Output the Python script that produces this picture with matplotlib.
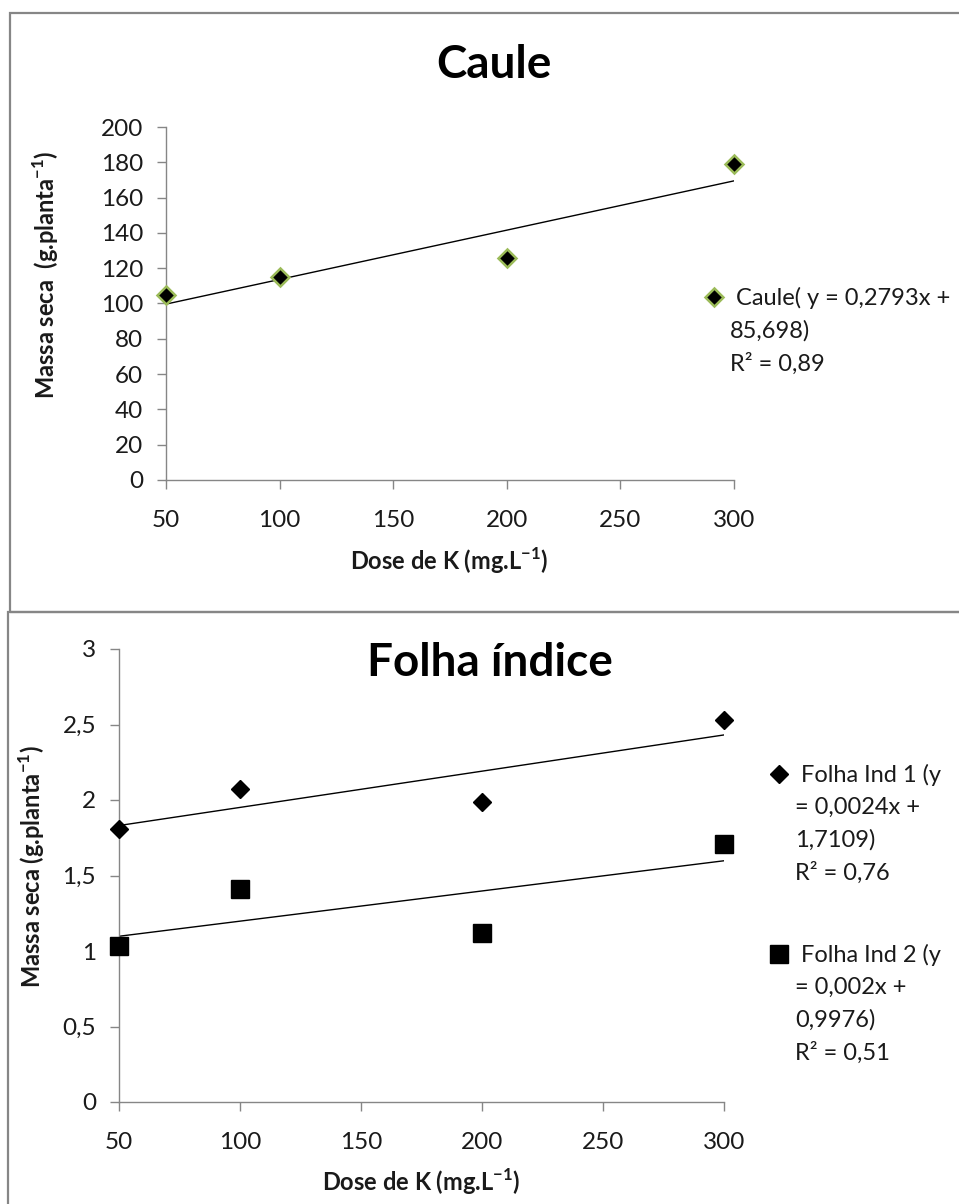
import matplotlib
matplotlib.use('Agg')
import matplotlib.pyplot as plt
from matplotlib.lines import Line2D
from matplotlib.patches import Rectangle

plt.rcParams['font.family'] = ['Lato', 'DejaVu Sans']
plt.rcParams['mathtext.fontset'] = 'custom'
plt.rcParams['mathtext.rm'] = 'Lato'
plt.rcParams['mathtext.bf'] = 'Lato:bold'

# data
doses = [50, 100, 200, 300]
caule = [105, 115, 126, 179]
folha1 = [1.81, 2.07, 1.99, 2.53]
folha2 = [1.03, 1.41, 1.12, 1.71]

# trend lines as printed in the legends (slope, intercept)
caule_fit = (0.2793, 85.698)
folha1_fit = (0.0024, 1.7109)
folha2_fit = (0.002, 0.9976)
fit_x = [50, 300]

x_ticks = [50, 100, 150, 200, 250, 300]
caule_yticks = [0, 20, 40, 60, 80, 100, 120, 140, 160, 180, 200]
folha_yticks = [0, 0.5, 1, 1.5, 2, 2.5, 3]
folha_yticklabels = ['0', '0,5', '1', '1,5', '2', '2,5', '3']

caule_label = [' Caule( y = 0,2793x +', '85,698)', 'R² = 0,89']
folha1_label = [' Folha Ind 1 (y', '= 0,0024x +', '1,7109)', 'R² = 0,76']
folha2_label = [' Folha Ind 2 (y', '= 0,002x +', '0,9976)', 'R² = 0,51']

W, H = 959, 1204
AXIS = '#868686'
TXT = '#1a1a1a'
GREEN = '#9bbb59'

fig = plt.figure(figsize=(W / 100, H / 100), dpi=100)

# panel borders
fig.add_artist(Rectangle((10 / W, 1 - 612 / H), 1.2, (612 - 13) / H,
                         transform=fig.transFigure, fill=False, ec=AXIS, lw=1.6))
fig.add_artist(Rectangle((8 / W, -0.1), 1.2, 0.1 + (H - 612) / H,
                         transform=fig.transFigure, fill=False, ec=AXIS, lw=1.6))


def style_axes(ax):
    for s in ['top', 'right']:
        ax.spines[s].set_visible(False)
    for s in ['left', 'bottom']:
        ax.spines[s].set_color(AXIS)
        ax.spines[s].set_linewidth(1.0)
    ax.tick_params(axis='y', direction='out', length=6.5, width=1.0, color=AXIS,
                   labelsize=17.5, labelcolor=TXT, pad=10)
    ax.tick_params(axis='x', direction='out', length=6.5, width=1.0, color=AXIS,
                   labelsize=17.5, labelcolor=TXT, pad=15)
    ax.set_xlim(50, 300)
    ax.set_xticks(x_ticks)
    ax.set_xticklabels([str(t) for t in x_ticks])


def line_fit(fit):
    return [fit[0] * x + fit[1] for x in fit_x]


# top panel: Caule
ax1 = fig.add_axes([166 / W, 1 - 480 / H, 568 / W, 353 / H])
style_axes(ax1)
ax1.set_ylim(0, 200)
ax1.set_yticks(caule_yticks)
ax1.plot(fit_x, line_fit(caule_fit), color='black', lw=1.0, zorder=2)
h_caule, = ax1.plot(doses, caule, linestyle='none', marker='D', markersize=9.5,
                    markerfacecolor='black', markeredgecolor=GREEN,
                    markeredgewidth=1.8, zorder=3, clip_on=False)
ax1.set_xlabel(r'Dose de K (mg.L$^{\mathbf{-1}}$)', fontsize=17, fontweight='bold', color=TXT)
ax1.xaxis.set_label_coords(0.498, -0.187)
ax1.set_ylabel(r'Massa seca  (g.planta$^{\mathbf{-1}}$)', fontsize=17, fontweight='bold', color=TXT)
ax1.yaxis.set_label_coords(-0.185, 0.581)
fig.text(494 / W, 1 - 65 / H, 'Caule', fontsize=33, fontweight='bold',
         ha='center', va='center', color='black')

blank = Line2D([], [], linestyle='none')
leg_kw = dict(frameon=False, fontsize=17, handlelength=1.0, handletextpad=0.18,
              borderpad=0, borderaxespad=0, labelspacing=0.47, labelcolor=TXT)
ax1.legend([h_caule, blank, blank], caule_label, loc='upper left',
           bbox_to_anchor=(702 / W, 1 - 287 / H), bbox_transform=fig.transFigure, **leg_kw)

# bottom panel: Folha indice
ax2 = fig.add_axes([119 / W, 1 - 1102 / H, 605 / W, 453 / H])
style_axes(ax2)
ax2.set_ylim(0, 3)
ax2.set_yticks(folha_yticks)
ax2.set_yticklabels(folha_yticklabels)
ax2.plot(fit_x, line_fit(folha1_fit), color='black', lw=1.0, zorder=2)
ax2.plot(fit_x, line_fit(folha2_fit), color='black', lw=1.0, zorder=2)
h_f1, = ax2.plot(doses, folha1, linestyle='none', marker='D', markersize=9.5,
                 color='black', zorder=3, clip_on=False)
h_f2, = ax2.plot(doses, folha2, linestyle='none', marker='s', markersize=13.5,
                 color='black', zorder=3, clip_on=False)
ax2.set_xlabel(r'Dose de K (mg.L$^{\mathbf{-1}}$)', fontsize=17, fontweight='bold', color=TXT)
ax2.xaxis.set_label_coords(0.5, -0.1435)
ax2.set_ylabel(r'Massa seca (g.planta$^{\mathbf{-1}}$)', fontsize=17, fontweight='bold', color=TXT)
ax2.yaxis.set_label_coords(-0.119, 0.519)
fig.text(490 / W, 1 - 663 / H, 'Folha índice', fontsize=33, fontweight='bold',
         ha='center', va='center', color='black')

leg1 = ax2.legend([h_f1, blank, blank, blank], folha1_label, loc='upper left',
                  bbox_to_anchor=(767 / W, 1 - 764 / H), bbox_transform=fig.transFigure, **leg_kw)
ax2.add_artist(leg1)
ax2.legend([h_f2, blank, blank, blank], folha2_label, loc='upper left',
           bbox_to_anchor=(767 / W, 1 - 944 / H), bbox_transform=fig.transFigure, **leg_kw)

fig.savefig('out.png', dpi=100)
